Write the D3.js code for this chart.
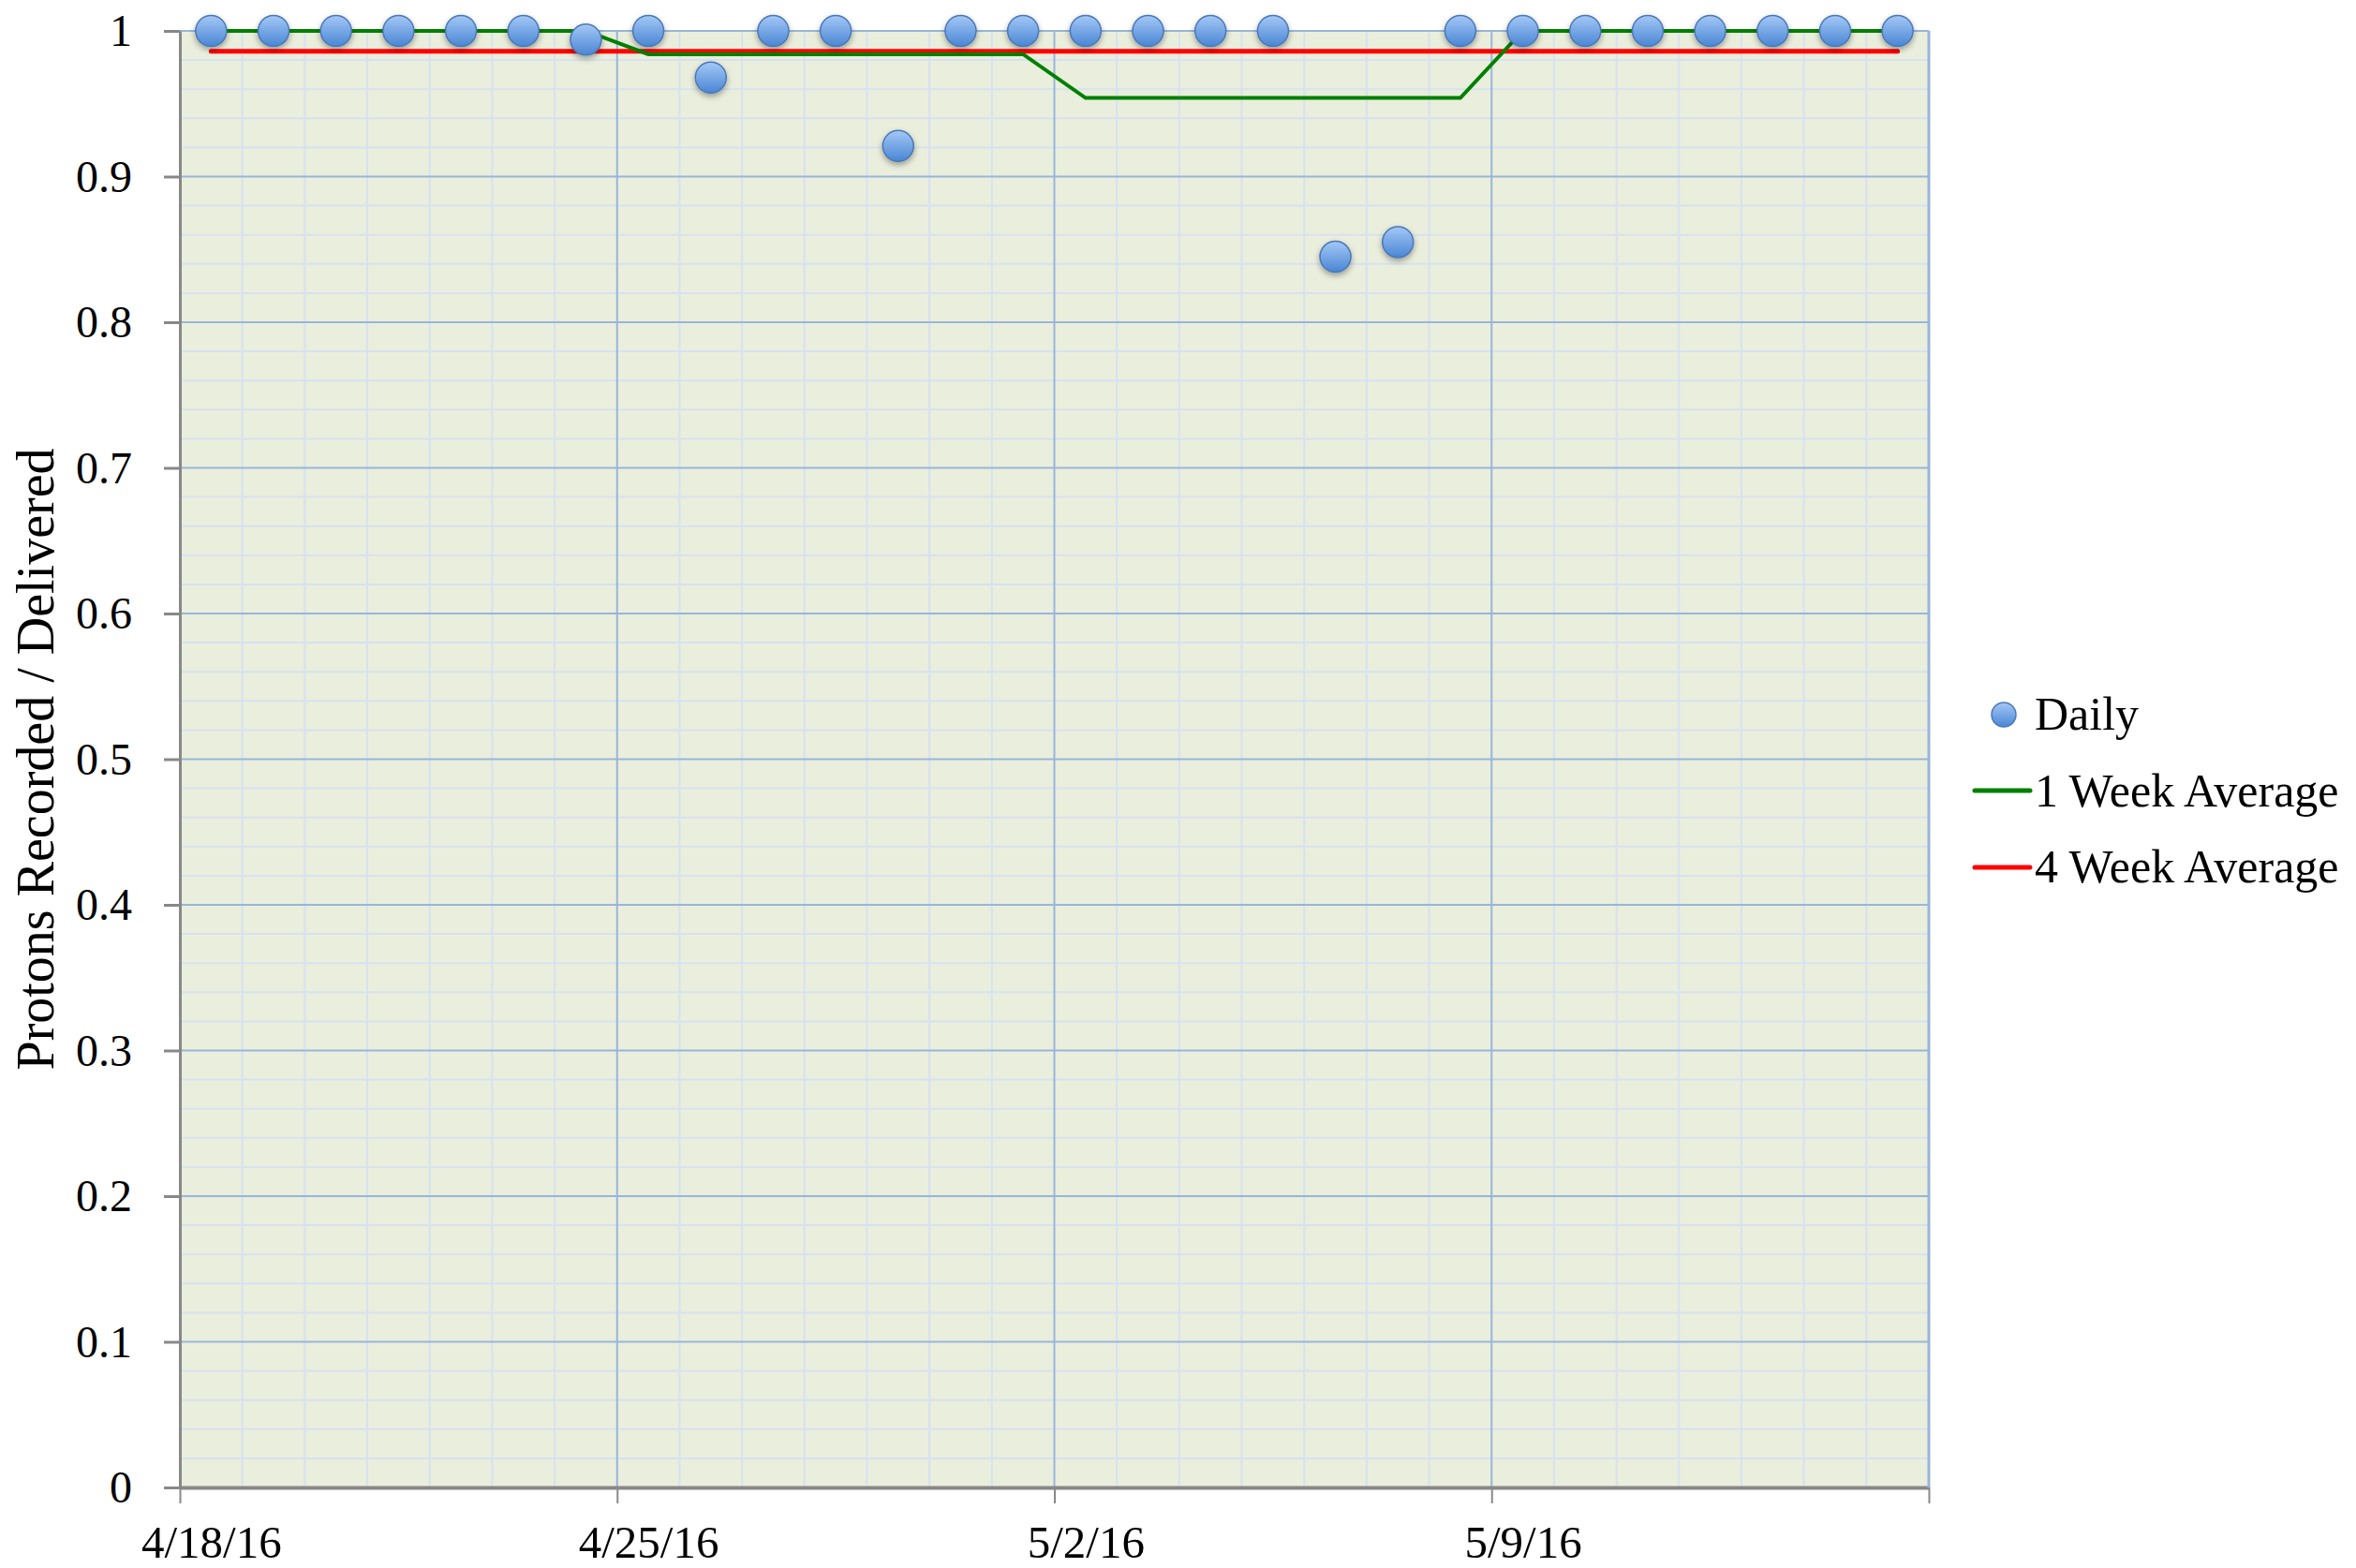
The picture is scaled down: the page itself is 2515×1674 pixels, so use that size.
<!DOCTYPE html>
<html>
<head>
<meta charset="utf-8">
<title>Protons Recorded / Delivered</title>
<script src="https://d3js.org/d3.v7.min.js"></script>
<style>
  body { margin: 0; background: #fff; }
  text { font-family: "Liberation Serif", "Times New Roman", serif; fill: #000; }
</style>
</head>
<body>
<svg id="chart"></svg>
<script>
// one value per day, 4/18/16 .. 5/15/16
var startDay = "2016-04-18";
var daily = [1, 1, 1, 1, 1, 1, 0.994,
             1, 0.968, 1, 1, 0.921, 1, 1,
             1, 1, 1, 1, 0.845, 0.855, 1,
             1, 1, 1, 1, 1, 1, 1];
var weekAvg = [1, 1, 1, 1, 1, 1, 1,
               0.984, 0.984, 0.984, 0.984, 0.984, 0.984, 0.984,
               0.954, 0.954, 0.954, 0.954, 0.954, 0.954, 0.954,
               1, 1, 1, 1, 1, 1, 1];
var monthAvg = [0.986, 0.986, 0.986, 0.986, 0.986, 0.986, 0.986,
                0.986, 0.986, 0.986, 0.986, 0.986, 0.986, 0.986,
                0.986, 0.986, 0.986, 0.986, 0.986, 0.986, 0.986,
                0.986, 0.986, 0.986, 0.986, 0.986, 0.986, 0.986];
var yTicks = [0, 0.1, 0.2, 0.3, 0.4, 0.5, 0.6, 0.7, 0.8, 0.9, 1];
var xTickDates = ["2016-04-18", "2016-04-25", "2016-05-02", "2016-05-09", "2016-05-16"];
var seriesNames = ["Daily", "1 Week Average", "4 Week Average"];

var W = 2515, H = 1674;
var margin = {top: 33, right: 456, bottom: 86, left: 192},
    width = W - margin.left - margin.right,
    height = H - margin.top - margin.bottom;

var parse = d3.utcParse("%Y-%m-%d");
var t0 = parse(startDay);
var days = daily.map(function(d, i) { return d3.utcDay.offset(t0, i); });
var noon = function(d) { return d3.utcHour.offset(d, 12); };

var svg = d3.select("#chart").attr("width", W).attr("height", H);
var defs = svg.append("defs");
var grad = defs.append("linearGradient").attr("id", "ball")
    .attr("x1", 0).attr("y1", 0).attr("x2", 0).attr("y2", 1);
grad.append("stop").attr("offset", "0%").attr("stop-color", "#a4c8f6");
grad.append("stop").attr("offset", "100%").attr("stop-color", "#4a86d4");
var shadow = defs.append("filter").attr("id", "shadow")
    .attr("x", "-50%").attr("y", "-50%").attr("width", "200%").attr("height", "200%");
shadow.append("feDropShadow").attr("dx", 0).attr("dy", 3).attr("stdDeviation", 3)
    .attr("flood-color", "#000").attr("flood-opacity", 0.35);

var g = svg.append("g").attr("transform", "translate(" + margin.left + "," + margin.top + ")");

var x = d3.scaleUtc().domain([t0, parse(xTickDates[xTickDates.length - 1])]).range([0, width]);
var y = d3.scaleLinear().domain([0, 1]).range([height, 0]);
var dayW = x(d3.utcDay.offset(t0, 1)) - x(t0);

// plot background
g.append("rect").attr("width", width).attr("height", height).attr("fill", "#eaeedc");

// minor grid
var minorY = d3.range(0, 51).map(function(i) { return i / 50; }).filter(function(v, i) { return i % 5 != 0; });
var minorX = d3.utcDay.range(t0, x.domain()[1]).filter(function(d, i) { return i % 7 != 0; });
g.append("g").selectAll("line").data(minorY).enter().append("line")
    .attr("x1", 0).attr("x2", width)
    .attr("y1", function(d) { return y(d); }).attr("y2", function(d) { return y(d); })
    .attr("stroke", "#d6e2f0").attr("stroke-width", 2);
g.append("g").selectAll("line").data(minorX).enter().append("line")
    .attr("y1", 0).attr("y2", height)
    .attr("x1", function(d) { return x(d); }).attr("x2", function(d) { return x(d); })
    .attr("stroke", "#d6e2f0").attr("stroke-width", 2);

// major grid
g.append("g").selectAll("line").data(yTicks.slice(1)).enter().append("line")
    .attr("x1", 0).attr("x2", width)
    .attr("y1", function(d) { return y(d); }).attr("y2", function(d) { return y(d); })
    .attr("stroke", "#98b5da").attr("stroke-width", 2);
g.append("g").selectAll("line").data(xTickDates.slice(1).map(parse)).enter().append("line")
    .attr("y1", 0).attr("y2", height)
    .attr("x1", function(d) { return x(d); }).attr("x2", function(d) { return x(d); })
    .attr("stroke", "#98b5da").attr("stroke-width", 2);

// axes
var yAxis = g.append("g")
    .call(d3.axisLeft(y).tickValues(yTicks).tickSize(17).tickSizeOuter(0).tickFormat(d3.format(".1~f")));
yAxis.selectAll(".tick line").attr("stroke", "#888").attr("stroke-width", 3);
yAxis.select(".domain").attr("stroke", "#888").attr("stroke-width", 3);
yAxis.selectAll("text").attr("x", -51).attr("dy", "0.33em")
    .style("font-size", "48px").style("font-family", "'Liberation Serif', 'Times New Roman', serif").attr("fill", "#000");

var xAxis = g.append("g").attr("transform", "translate(0," + height + ")")
    .call(d3.axisBottom(x).tickValues(xTickDates.map(parse)).tickSize(17).tickSizeOuter(0)
        .tickFormat(d3.utcFormat("%-m/%-d/%y")));
xAxis.selectAll(".tick line").attr("stroke", "#888").attr("stroke-width", 2);
xAxis.select(".domain").attr("stroke", "#888").attr("stroke-width", 4);
xAxis.selectAll("text").attr("x", dayW / 2).attr("y", 75).attr("dy", 0)
    .style("font-size", "49px").style("font-family", "'Liberation Serif', 'Times New Roman', serif").attr("fill", "#000")
    .filter(function(d, i) { return i == xTickDates.length - 1; }).remove();

// y axis title
svg.append("text")
    .attr("transform", "translate(57," + (margin.top + height / 2) + ") rotate(-90)")
    .attr("text-anchor", "middle")
    .style("font-size", "56px")
    .text("Protons Recorded / Delivered");

// lines
var line = d3.line()
    .x(function(d, i) { return x(noon(days[i])); })
    .y(function(d) { return y(d); });
g.append("path").datum(monthAvg).attr("d", line)
    .attr("fill", "none").attr("stroke", "#ff0000").attr("stroke-width", 5).attr("stroke-linecap", "round");
g.append("path").datum(weekAvg).attr("d", line)
    .attr("fill", "none").attr("stroke", "#008000").attr("stroke-width", 4).attr("stroke-linejoin", "miter");

// daily points
g.selectAll(".dot").data(daily).enter().append("circle")
    .attr("class", "dot")
    .attr("cx", function(d, i) { return x(noon(days[i])); })
    .attr("cy", function(d) { return y(d); })
    .attr("r", 16.5)
    .attr("fill", "url(#ball)")
    .attr("stroke", "#4a78b8").attr("stroke-width", 1.5)
    .attr("filter", "url(#shadow)");

// right border
g.append("line").attr("x1", width).attr("x2", width).attr("y1", 0).attr("y2", height)
    .attr("stroke", "#98b5da").attr("stroke-width", 3);

// legend
var leg = svg.append("g").attr("transform", "translate(2108,763)");
leg.append("circle").attr("cx", 31).attr("cy", 0).attr("r", 13)
    .attr("fill", "url(#ball)").attr("stroke", "#4a78b8").attr("stroke-width", 1.5);
leg.append("line").attr("x1", 0).attr("x2", 59).attr("y1", 81).attr("y2", 81)
    .attr("stroke", "#008000").attr("stroke-width", 5).attr("stroke-linecap", "round");
leg.append("line").attr("x1", 0).attr("x2", 59).attr("y1", 163).attr("y2", 163)
    .attr("stroke", "#ff0000").attr("stroke-width", 5).attr("stroke-linecap", "round");
leg.selectAll(".lt").data(seriesNames).enter().append("text")
    .attr("class", "lt")
    .attr("x", 64)
    .attr("y", function(d, i) { return i * 81.5 + 16; })
    .style("font-size", "50px")
    .text(function(d) { return d; });
</script>
</body>
</html>
